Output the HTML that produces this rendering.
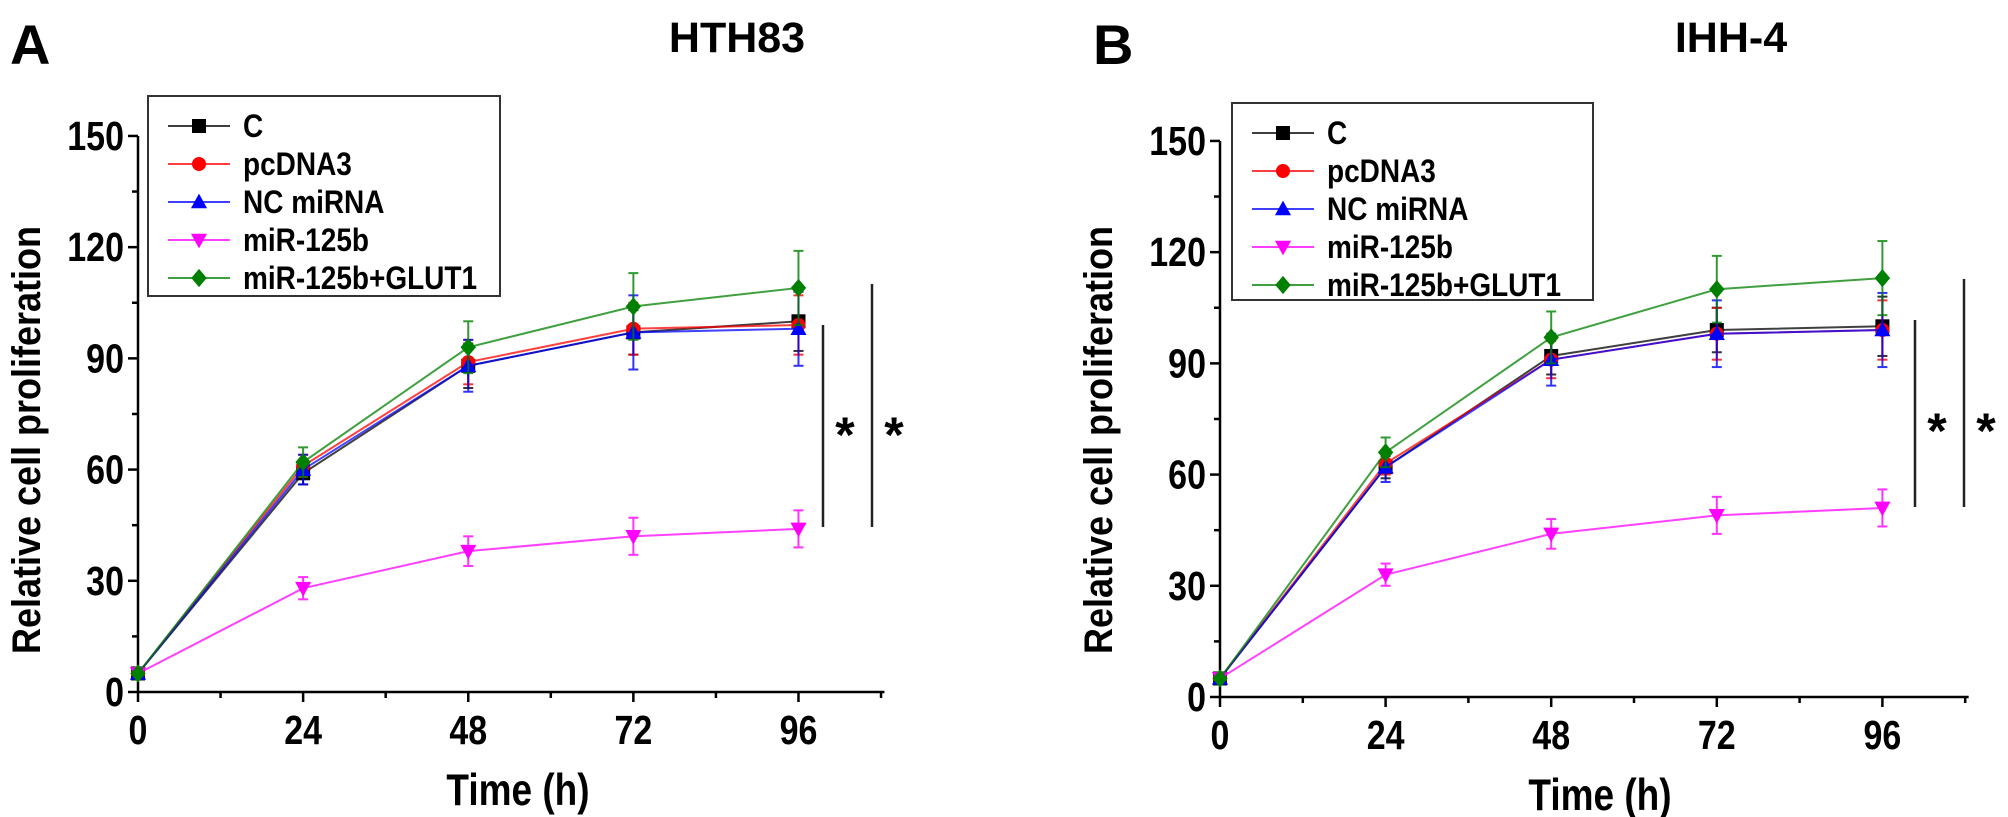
<!DOCTYPE html>
<html><head><meta charset="utf-8">
<style>
html,body{margin:0;padding:0;background:#fff;}
svg{display:block;font-family:"Liberation Sans",Arial,sans-serif;font-weight:bold;}
</style></head>
<body>
<svg id="fig" width="2008" height="817" viewBox="0 0 2008 817" xmlns="http://www.w3.org/2000/svg"></svg>
<script>
// ---- data ----
const times = [0, 24, 48, 72, 96];
const seriesNames = ["C", "pcDNA3", "NC miRNA", "miR-125b", "miR-125b+GLUT1"];
const seriesColors = ["#000000", "#ff0000", "#0000ff", "#ff00ff", "#008000"];
const seriesMarkers = ["square", "circle", "triangle", "tridown", "diamond"];
const yTicks = [0, 30, 60, 90, 120, 150];
const xTicks = [0, 24, 48, 72, 96];

const hthC = [5, 59, 88, 97, 100];
const hthPc = [5, 61, 89, 98, 99];
const hthNC = [5, 60, 88, 97, 98];
const hthMiR = [5, 28, 38, 42, 44];
const hthGlut = [5, 62, 93, 104, 109];
const hthErrC = [0, 3, 6, 6, 8];
const hthErrPc = [0, 3, 6, 7, 8];
const hthErrNC = [0, 4, 7, 10, 10];
const hthErrMiR = [0, 3, 4, 5, 5];
const hthErrGlut = [0, 4, 7, 9, 10];

const ihhC = [5, 62, 92, 99, 100];
const ihhPc = [5, 63, 91, 98, 99];
const ihhNC = [5, 62, 91, 98, 99];
const ihhMiR = [5, 33, 44, 49, 51];
const ihhGlut = [5, 66, 97, 110, 113];
const ihhErrC = [0, 3, 5, 6, 8];
const ihhErrPc = [0, 3, 5, 7, 8];
const ihhErrNC = [0, 4, 7, 9, 10];
const ihhErrMiR = [0, 3, 4, 5, 5];
const ihhErrGlut = [0, 4, 7, 9, 10];

const NS = "http://www.w3.org/2000/svg";
const svg = document.getElementById("fig");
function el(tag, attrs, parent) {
  const e = document.createElementNS(NS, tag);
  for (const k in attrs) e.setAttribute(k, attrs[k]);
  (parent || svg).appendChild(e);
  return e;
}
function txt(str, attrs, parent) {
  const t = el("text", attrs, parent);
  t.textContent = str;
  return t;
}
function marker(g, type, cx, cy, color, s) {
  let m;
  if (type === "square") m = el("rect", {x: cx - s, y: cy - s, width: 2 * s, height: 2 * s, fill: color}, g);
  else if (type === "circle") m = el("circle", {cx: cx, cy: cy, r: s, fill: color}, g);
  else if (type === "triangle") m = el("polygon", {points: `${cx},${cy - s * 1.2} ${cx - s * 1.15},${cy + s * 0.9} ${cx + s * 1.15},${cy + s * 0.9}`, fill: color}, g);
  else if (type === "tridown") m = el("polygon", {points: `${cx},${cy + s * 1.2} ${cx - s * 1.15},${cy - s * 0.9} ${cx + s * 1.15},${cy - s * 0.9}`, fill: color}, g);
  else m = el("polygon", {points: `${cx},${cy - s * 1.3} ${cx + s * 1.1},${cy} ${cx},${cy + s * 1.3} ${cx - s * 1.1},${cy}`, fill: color}, g);
  return m;
}

function panel(cfg) {
  const g = el("g", {});
  
  
  const X = v => cfg.x0 + v * cfg.xs;
  const Y = v => cfg.y0 - v * cfg.ys;

  const L = txt(cfg.letter, {x: cfg.letterX, y: 64, "font-size": 56, fill: "#000"}, g);
  
  
  const T = txt(cfg.title, {x: cfg.titleX, y: 52, "font-size": 43, "text-anchor": "middle", fill: "#000"}, g);
  
  

  const ax = el("g", {stroke: "#000", "stroke-width": 2.5}, g);
  
  
  el("line", {x1: X(0), y1: Y(150), x2: X(0), y2: Y(0)}, ax);
  el("line", {x1: X(0), y1: Y(0), x2: X(108.5), y2: Y(0)}, ax);
  for (let v = 0; v <= 150; v += 15) {
    const major = v % 30 === 0;
    el("line", {x1: X(0) - (major ? 10 : 6), y1: Y(v), x2: X(0), y2: Y(v)}, ax);
  }
  for (let v = 0; v <= 108; v += 12) {
    const major = v % 24 === 0;
    el("line", {x1: X(v), y1: Y(0), x2: X(v), y2: Y(0) + (major ? 10 : 6)}, ax);
  }
  yTicks.forEach(v => {
    const t = txt(String(v), {"font-size": 34, "text-anchor": "end", fill: "#000", transform: `translate(${X(0) - 14},${Y(v) + 14}) scale(1,1.2)`}, g);
    
    
  });
  xTicks.forEach(v => {
    const t = txt(String(v), {"font-size": 34, "text-anchor": "middle", fill: "#000", transform: `translate(${X(v)},${Y(0) + 52}) scale(1,1.2)`}, g);
    
    
  });
  const xt = txt("Time (h)", {"font-size": 37, "text-anchor": "middle", fill: "#000", transform: `translate(${X(0) + 380},${Y(0) + 113}) scale(1,1.2)`}, g);
  
  
  const yt = txt("Relative cell proliferation", {"font-size": 36, "text-anchor": "middle", fill: "#000", transform: `translate(${cfg.yTitleX},${440}) rotate(-90) scale(1,1.1)`}, g);
  
  

  [0, 1, 2, 3, 4].forEach(i => {
    const vals = cfg.values[i], errs = cfg.errors[i], c = seriesColors[i];
    const sg = el("g", {}, g);
    
    
    el("polyline", {points: vals.map((v, j) => X(times[j]) + "," + Y(v)).join(" "), fill: "none", stroke: c, "stroke-width": 2, opacity: 0.75}, sg);
    vals.forEach((v, j) => {
      if (errs[j] > 0) {
        const eg = el("g", {stroke: c, "stroke-width": 2, opacity: 0.8}, sg);
        
        
        const x = X(times[j]);
        el("line", {x1: x, y1: Y(v - errs[j]), x2: x, y2: Y(v + errs[j])}, eg);
        el("line", {x1: x - 5, y1: Y(v - errs[j]), x2: x + 5, y2: Y(v - errs[j])}, eg);
        el("line", {x1: x - 5, y1: Y(v + errs[j]), x2: x + 5, y2: Y(v + errs[j])}, eg);
      }
      const m = marker(sg, seriesMarkers[i], X(times[j]), Y(v), c, 7);
      
      
    });
  });

  cfg.sig.forEach(s => {
    const sgr = el("g", {}, g);
    
    
    el("line", {x1: s.x, y1: s.y1, x2: s.x, y2: s.y2, stroke: "#222", "stroke-width": 2.5}, sgr);
    txt("*", {x: s.x + 22, y: s.sy, "font-size": 50, "text-anchor": "middle", fill: "#000"}, sgr);
  });

  const lg = el("g", {}, g);
  
  
  el("rect", {x: cfg.leg.x, y: cfg.leg.y, width: cfg.leg.w, height: cfg.leg.h, fill: "#fff", stroke: "#333", "stroke-width": 2}, lg);
  seriesNames.forEach((n, i) => {
    const ry = cfg.leg.y + 30 + i * 38;
    const eg = el("g", {}, lg);
    
    
    el("line", {x1: cfg.leg.x + 20, y1: ry, x2: cfg.leg.x + 82, y2: ry, stroke: seriesColors[i], "stroke-width": 2, opacity: 0.75}, eg);
    marker(eg, seriesMarkers[i], cfg.leg.x + 51, ry, seriesColors[i], 7);
    txt(n, {"font-size": 28, fill: "#000", transform: `translate(${cfg.leg.x + 95},${ry + 11}) scale(1,1.15)`}, eg);
  });
}

panel({
  name: "panel-a-hth83", letter: "A", letterX: 10, title: "HTH83", titleX: 737, yTitleX: 40,
  x0: 138, xs: 6.88, y0: 692, ys: 3.707,
  values: [hthC, hthPc, hthNC, hthMiR, hthGlut],
  errors: [hthErrC, hthErrPc, hthErrNC, hthErrMiR, hthErrGlut],
  sig: [{x: 823, y1: 325, y2: 527, sy: 452}, {x: 872, y1: 284, y2: 527, sy: 452}],
  leg: {x: 148, y: 96, w: 352, h: 200}
});
panel({
  name: "panel-b-ihh4", letter: "B", letterX: 1093, title: "IHH-4", titleX: 1731, yTitleX: 1112,
  x0: 1220, xs: 6.9, y0: 697, ys: 3.707,
  values: [ihhC, ihhPc, ihhNC, ihhMiR, ihhGlut],
  errors: [ihhErrC, ihhErrPc, ihhErrNC, ihhErrMiR, ihhErrGlut],
  sig: [{x: 1915, y1: 320, y2: 507, sy: 448}, {x: 1964, y1: 279, y2: 507, sy: 448}],
  leg: {x: 1232, y: 103, w: 361, h: 197}
});
</script>
</body></html>
